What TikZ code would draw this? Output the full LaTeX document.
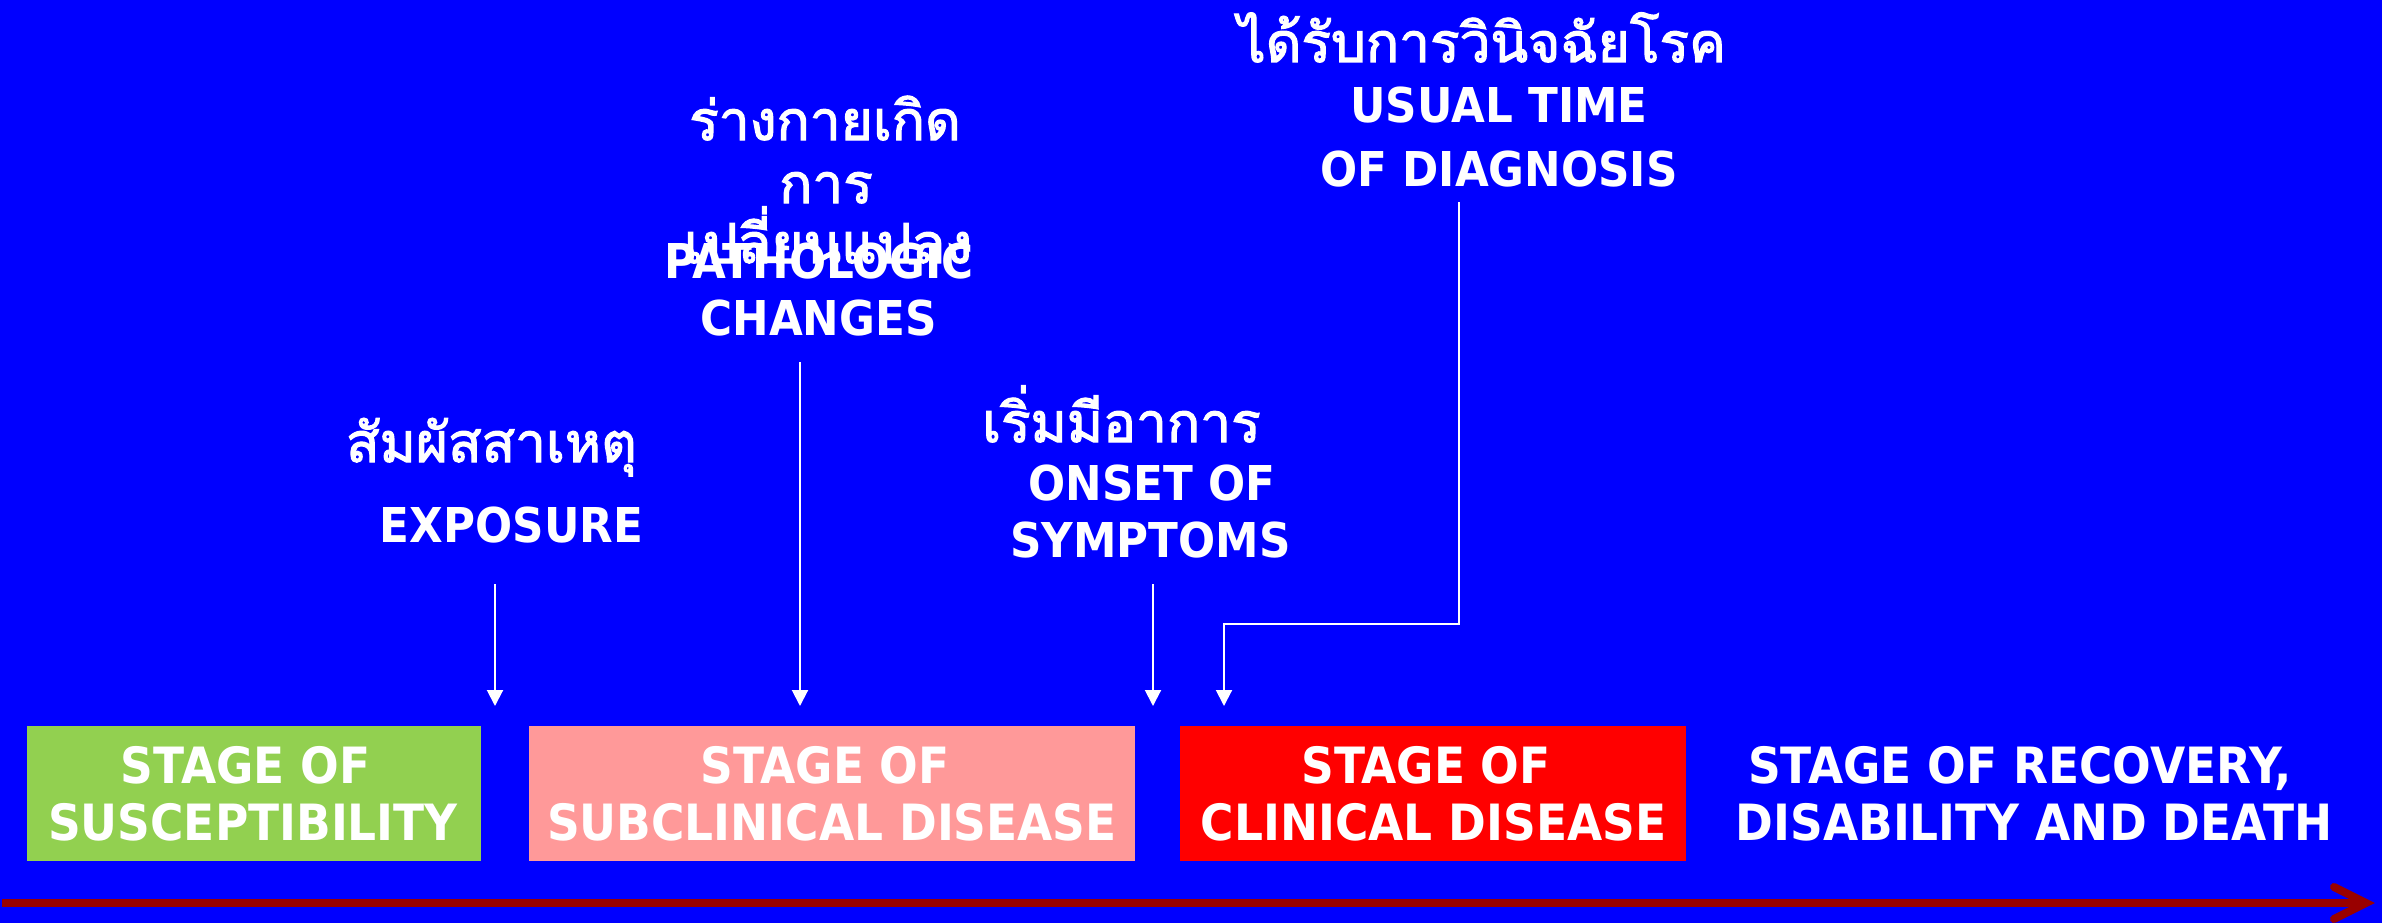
\documentclass[tikz,border=0pt]{standalone}
\usepackage{fontspec}
\setmainfont[FakeStretch=0.91]{DejaVu Sans}
\newfontfamily\thaifont[Script=Thai, FakeBold=2.2]{Loma}
\usetikzlibrary{arrows.meta}

\definecolor{slideblue}{HTML}{0000FF}
\definecolor{suscgreen}{HTML}{92D050}
\definecolor{subpink}{HTML}{FF9999}
\definecolor{clinred}{HTML}{FF0000}
\definecolor{axisred}{HTML}{990000}

\tikzset{
  stagebox/.style={inner sep=0pt, minimum height=135pt, draw=none},
  boxtxt/.style={text=white, inner sep=0pt, anchor=base,
    font=\bfseries\fontsize{50}{57}\selectfont},
  lbl/.style={text=white, inner sep=0pt, anchor=base,
    font=\bfseries\fontsize{48}{57}\selectfont},
  thlbl/.style={text=white, inner sep=0pt, anchor=base,
    font=\thaifont\fontsize{55}{57}\selectfont},
  pointer/.style={draw=white, line width=2pt, -{Triangle[length=16pt,width=16pt]}},
  timeaxis/.style={draw=axisred, line width=8pt},
  axishead/.style={draw=axisred, line width=8pt, line cap=round, line join=miter},
}

\begin{document}
\begin{tikzpicture}[x=1pt, y=-1pt]
  % slide background
  \fill[slideblue] (0,0) rectangle (2382,923);
  \useasboundingbox (0,0) rectangle (2382,923);

  % stage boxes
  \node[stagebox, fill=suscgreen, minimum width=454pt] (susc) at (254,793.5) {};
  \node[stagebox, fill=subpink,   minimum width=606pt] (subc) at (832,793.5) {};
  \node[stagebox, fill=clinred,   minimum width=506pt] (clin) at (1433,793.5) {};

  % stage titles
  \node[boxtxt] (susc1) at (245.5,783) {STAGE OF};
  \node[boxtxt] (susc2) at (253,840) {SUSCEPTIBILITY};
  \node[boxtxt] (subc1) at (825,783) {STAGE OF};
  \node[boxtxt] (subc2) at (832,840) {SUBCLINICAL DISEASE};
  \node[boxtxt] (clin1) at (1426,783) {STAGE OF};
  \node[boxtxt] (clin2) at (1433.5,840) {CLINICAL DISEASE};
  \node[boxtxt] (reco1) at (2020,783) {STAGE OF RECOVERY,};
  \node[boxtxt] (reco2) at (2034,840) {DISABILITY AND DEATH};

  % event labels
  \node[thlbl] (expTh) at (491.5,462) {สัมผัสสาเหตุ};
  \node[lbl]   (expEn) at (511.5,542) {EXPOSURE};

  \node[thlbl] (patTh1) at (825,140) {ร่างกายเกิด};
  \node[thlbl] (patTh2) at (826,203) {การ};
  \node[thlbl] (patTh3) at (828,263) {เปลี่ยนแปลง};
  \node[lbl]   (patEn1) at (819,278) {PATHOLOGIC};
  \node[lbl]   (patEn2) at (818.5,335) {CHANGES};

  \node[thlbl] (onsTh)  at (1121.5,442) {เริ่มมีอาการ};
  \node[lbl]   (onsEn1) at (1152,500) {ONSET OF};
  \node[lbl]   (onsEn2) at (1150.5,557) {SYMPTOMS};

  \node[thlbl] (diaTh)  at (1482,62) {ได้รับการวินิจฉัยโรค};
  \node[lbl]   (diaEn1) at (1499,123) {USUAL TIME};
  \node[lbl]   (diaEn2) at (1499,186) {OF DIAGNOSIS};

  % pointer end points
  \coordinate (expTop) at (495,584);
  \coordinate (expTip) at (495,706);
  \coordinate (patTop) at (800,362);
  \coordinate (patTip) at (800,706);
  \coordinate (onsTop) at (1153,584);
  \coordinate (onsTip) at (1153,706);
  \coordinate (diaTop) at (1459,202);
  \coordinate (diaBend) at (1459,624);
  \coordinate (diaTip) at (1224,706);

  \draw[pointer] (expTop) -- (expTip);
  \draw[pointer] (patTop) -- (patTip);
  \draw[pointer] (onsTop) -- (onsTip);
  \draw[pointer] (diaTop) -- (diaBend) -| (diaTip);

  % time axis
  \coordinate (axisStart) at (2,903);
  \coordinate (axisTip) at (2366,903);
  \draw[timeaxis] (axisStart) -- (axisTip);
  \draw[axishead] ([shift={(-32,-16)}]axisTip) -- (axisTip) -- ([shift={(-32,16)}]axisTip);
\end{tikzpicture}
\end{document}
